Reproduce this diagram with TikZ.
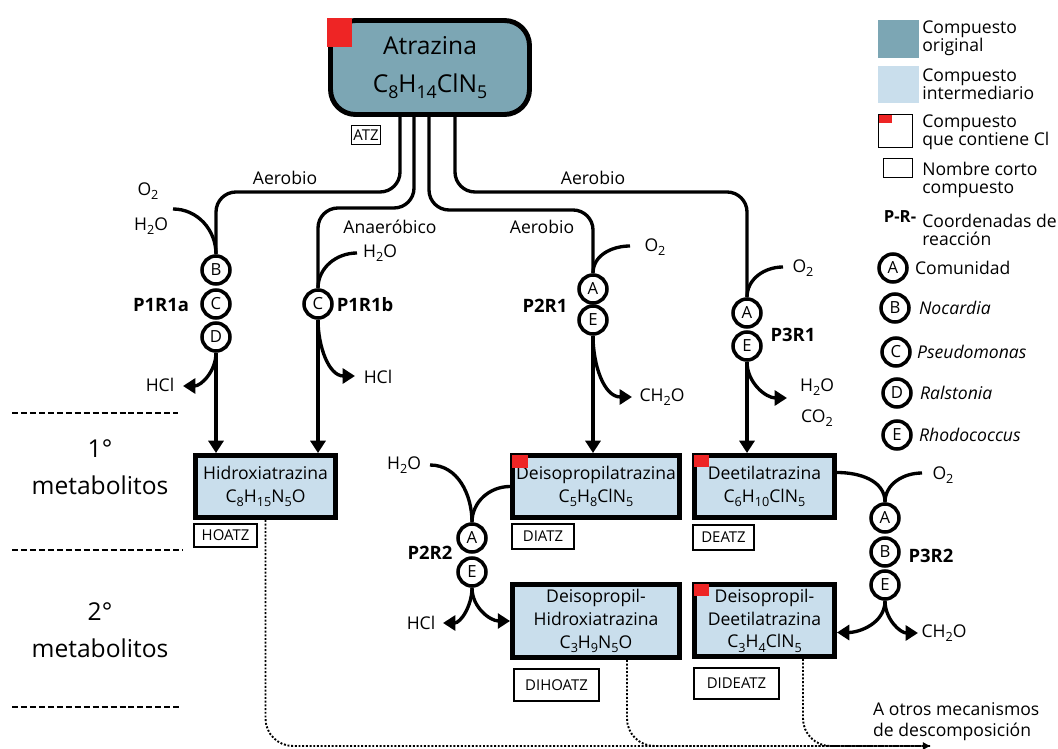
\documentclass[tikz,border=0pt]{standalone}
\usepackage{fontspec}
\usepackage{graphicx}
\setmainfont{Open Sans}
\usetikzlibrary{arrows.meta}
\definecolor{origfill}{RGB}{124,166,180}
\definecolor{interfill}{RGB}{201,222,236}
\definecolor{clred}{RGB}{238,37,37}
\newcommand{\sbs}[1]{\raisebox{-0.45ex}{\scalebox{0.72}{#1}}}

\begin{document}
\begin{tikzpicture}[x=0.02cm,y=0.02cm,
    every node/.style={font=\fontsize{10}{10}\selectfont},
    flow/.style={line width=1.9pt},
    endtip/.style={-{Triangle[width=8.5pt,length=7pt]}},
    org/.style={circle,draw,line width=2pt,fill=white,minimum size=0.56cm,inner sep=0pt,font=\fontsize{9.5}{10}\selectfont},
    orig/.style={draw,line width=2.8pt,fill=origfill,rounded corners=0.5cm,minimum width=3.98cm,minimum height=1.88cm,align=center,font=\fontsize{14}{22}\selectfont},
    inter/.style={draw,line width=2.8pt,fill=interfill,inner sep=0pt,align=center,font=\fontsize{10}{13}\selectfont},
    short/.style={draw,line width=1.1pt,fill=white,inner sep=0pt,font=\fontsize{8.5}{10}\selectfont},
    pr/.style={font=\fontsize{10.5}{12}\selectfont\bfseries},
    lvl/.style={align=center,font=\fontsize{14}{21}\selectfont},
    legtext/.style={anchor=west,align=left,inner sep=0pt,font=\fontsize{10}{10}\selectfont},
    lvlsep/.style={line width=1.1pt,dash pattern=on 3.4pt off 1.7pt},
    dotline/.style={densely dotted,line width=1.1pt,rounded corners=0.55cm}]
                    \useasboundingbox (0,0) rectangle (1058,-749);
                    \node[orig] (atz) at (430,-67.5) {Atrazina\\C\sbs{8}H\sbs{14}ClN\sbs{5}};
                    \fill[clred] ([shift={(-1,0)}]atz.north west) rectangle ++(25,-29);
                    \node[short,minimum width=0.58cm,minimum height=0.38cm] (atzs) at (366,-135) {ATZ};
                    \node[org] (b1a) at (216,-270) {B};
                    \node[org] (c1a) at (216,-304) {C};
                    \node[org] (d1a) at (216,-337) {D};
                    \node[org] (c1b) at (318,-304) {C};
                    \node[org] (a21) at (593,-289) {A};
                    \node[org] (e21) at (593,-320) {E};
                    \node[org] (a31) at (747,-313) {A};
                    \node[org] (e31) at (747,-346) {E};
                    \node[org] (a22) at (472,-538) {A};
                    \node[org] (e22) at (472,-572) {E};
                    \node[org] (a32) at (885,-518) {A};
                    \node[org] (b32) at (885,-552) {B};
                    \node[org] (e32) at (885,-585) {E};
                    \node[inter,minimum width=2.8cm,minimum height=1.24cm] (hoatz) at (265.5,-486.5) {Hidroxiatrazina\\C\sbs{8}H\sbs{15}N\sbs{5}O};
                    \node[inter,minimum width=3.34cm,minimum height=1.24cm] (diatz) at (596,-486.5) {Deisopropilatrazina\\C\sbs{5}H\sbs{8}ClN\sbs{5}};
                    \node[inter,minimum width=2.8cm,minimum height=1.24cm] (deatz) at (764.5,-486.5) {Deetilatrazina\\C\sbs{6}H\sbs{10}ClN\sbs{5}};
                    \node[inter,minimum width=3.34cm,minimum height=1.46cm] (dihoatz) at (596,-621) {Deisopropil-\\Hidroxiatrazina\\C\sbs{3}H\sbs{9}N\sbs{5}O};
                    \node[inter,minimum width=2.8cm,minimum height=1.44cm] (dideatz) at (764.5,-620.5) {Deisopropil-\\Deetilatrazina\\C\sbs{3}H\sbs{4}ClN\sbs{5}};
                    \fill[clred] ([shift={(2,-2)}]diatz.north west) rectangle ++(16,-13);
                    \fill[clred] ([shift={(2,-2)}]deatz.north west) rectangle ++(15,-12);
                    \fill[clred] ([shift={(2,-2)}]dideatz.north west) rectangle ++(15,-12);
                    \node[short,minimum width=1.26cm,minimum height=0.46cm] (hoatzs) at (225.5,-535.5) {HOATZ};
                    \node[short,minimum width=1.24cm,minimum height=0.5cm] (diatzs) at (543,-536.5) {DIATZ};
                    \node[short,minimum width=1.22cm,minimum height=0.5cm] (deatzs) at (723.5,-537.5) {DEATZ};
                    \node[short,minimum width=1.7cm,minimum height=0.64cm] (dihoatzs) at (556.5,-685) {DIHOATZ};
                    \node[short,minimum width=1.7cm,minimum height=0.62cm] (dideatzs) at (736.5,-683.5) {DIDEATZ};
                    \node (aer1) at (285,-178) {Aerobio};
                    \node (anaer) at (390,-227) {Anaeróbico};
                    \node (aer2) at (542,-227) {Aerobio};
                    \node (aer3) at (593,-178) {Aerobio};
                    \node[pr] (p1a) at (161,-305) {P1R1a};
                    \node[pr] (p1b) at (365,-305) {P1R1b};
                    \node[pr] (p21) at (545,-306) {P2R1};
                    \node[pr] (p31) at (793,-335) {P3R1};
                    \node[pr] (p22) at (430,-553) {P2R2};
                    \node[pr] (p32) at (931,-556) {P3R2};
                    \node (o2a) at (148,-191) {O\sbs{2}};
                    \node (h2oa) at (151,-226) {H\sbs{2}O};
                    \node (h2ob) at (380,-253) {H\sbs{2}O};
                    \node (o2c) at (655,-247) {O\sbs{2}};
                    \node (o2d) at (803,-268) {O\sbs{2}};
                    \node (hcla) at (160,-385) {HCl};
                    \node (hclb) at (378,-377) {HCl};
                    \node (ch2oc) at (662,-397) {CH\sbs{2}O};
                    \node (h2od) at (817,-387) {H\sbs{2}O};
                    \node (co2d) at (817,-418) {CO\sbs{2}};
                    \node (h2oe) at (404,-465) {H\sbs{2}O};
                    \node (hcle) at (421,-623) {HCl};
                    \node (o2f) at (943,-475) {O\sbs{2}};
                    \node (ch2of) at (944,-633) {CH\sbs{2}O};
                    \coordinate (in1a) at (173,-209);
                    \coordinate (in1b) at (357,-253);
                    \coordinate (in21) at (630,-246);
                    \coordinate (in31) at (783,-267);
                    \coordinate (in22) at (430,-465);
                    \coordinate (in32) at (922,-473);
                    \coordinate (out1a) at (183,-386);
                    \coordinate (out1b) at (355,-376);
                    \coordinate (out21) at (632,-397);
                    \coordinate (out31) at (787,-398);
                    \coordinate (out22) at (443,-623);
                    \coordinate (out32) at (918,-633);
                    \coordinate (dend) at (930,-746);
                    \draw[flow,rounded corners=0.4cm] ([xshift=-0.6cm]atz.south) |- (b1a |- 0,-192) -- (b1a.north);
                    \draw[flow,rounded corners=0.4cm] ([xshift=-0.32cm]atz.south) |- (c1b |- 0,-208) -- (c1b.north);
                    \draw[flow,rounded corners=0.4cm] ([xshift=-0.02cm]atz.south) |- (a21 |- 0,-210) -- (a21.north);
                    \draw[flow,rounded corners=0.4cm] ([xshift=0.5cm]atz.south) |- (a31 |- 0,-192) -- (a31.north);
                    \draw[flow] (in1a) to[out=0,in=90] (b1a.north);
                    \draw[flow] (in1b) to[out=180,in=90] (c1b.north);
                    \draw[flow] (in21) to[out=180,in=90] (a21.north);
                    \draw[flow] (in31) to[out=180,in=90] (a31.north);
                    \draw[flow,endtip] (d1a.south) -- (d1a.south |- hoatz.north);
                    \draw[flow,endtip] (d1a.south) to[out=-90,in=0] (out1a);
                    \draw[flow,endtip] (c1b.south) -- (c1b.south |- hoatz.north);
                    \draw[flow,endtip] (c1b.south) to[out=-90,in=180] (out1b);
                    \draw[flow,endtip] (e21.south) -- (e21.south |- diatz.north);
                    \draw[flow,endtip] (e21.south) to[out=-90,in=180] (out21);
                    \draw[flow,endtip] (e31.south) -- (e31.south |- deatz.north);
                    \draw[flow,endtip] (e31.south) to[out=-90,in=180] (out31);
                    \draw[flow] (diatz.west) to[out=180,in=90] (a22.north);
                    \draw[flow] (in22) to[out=0,in=90] (a22.north);
                    \draw[flow,endtip] (e22.south) to[out=-90,in=0] (out22);
                    \draw[flow,endtip] (e22.south) to[out=-90,in=180] (dihoatz.west);
                    \draw[flow] ([yshift=0.28cm]deatz.east) to[out=0,in=90] (a32.north);
                    \draw[flow] (in32) to[out=180,in=90] (a32.north);
                    \draw[flow,endtip] (e32.south) to[out=-90,in=0] ([yshift=-0.24cm]dideatz.east);
                    \draw[flow,endtip] (e32.south) to[out=-90,in=180] (out32);
                    \draw[dotline,-{Triangle[width=4pt,length=4pt]}] (hoatz.south) |- (dend);
                    \draw[dotline] ([xshift=0.62cm]dihoatz.south) |- (dend);
                    \draw[dotline] ([xshift=0.77cm]dideatz.south) |- (dend);
                    \node[anchor=west,align=left,font=\fontsize{10}{12}\selectfont] (otros) at (867,-722) {A otros mecanismos\\de descomposición};
                    \draw[lvlsep] (12,-413) -- (178,-413);
                    \draw[lvlsep] (12,-550) -- (183,-550);
                    \draw[lvlsep] (12,-707) -- (182,-707);
                    \node[lvl] (lvl1) at (100,-467) {1°\\metabolitos};
                    \node[lvl] (lvl2) at (100,-630) {2°\\metabolitos};
                    \node[fill=origfill,minimum width=0.82cm,minimum height=0.76cm,inner sep=0pt] (lgorig) at (898.5,-39) {};
                    \node[fill=interfill,minimum width=0.82cm,minimum height=0.74cm,inner sep=0pt] (lginter) at (898.5,-84.5) {};
                    \node[draw,line width=0.8pt,minimum width=0.68cm,minimum height=0.66cm,inner sep=0pt] (lgcl) at (895.5,-131) {};
                    \fill[clred] ([shift={(1,-1)}]lgcl.north west) rectangle ++(13,-8);
                    \node[short,minimum width=0.58cm,minimum height=0.38cm] (lgshort) at (898,-168) {};
                    \node[font=\fontsize{9.5}{10}\selectfont\bfseries] (lgpr) at (900,-217) {P-R-};
                    \node[legtext] (lgt1) at (922,-38) {Compuesto\\original};
                    \node[legtext] (lgt2) at (922,-84) {Compuesto\\intermediario};
                    \node[legtext] (lgt3) at (922,-132) {Compuesto\\que contiene Cl};
                    \node[legtext] (lgt4) at (922,-180) {Nombre corto\\compuesto};
                    \node[legtext] (lgt5) at (922,-230) {Coordenadas de\\reacción};
                    \node[org] (lga) at (893,-268) {A};
                    \node[org] (lgb) at (895,-308) {B};
                    \node[org] (lgc) at (896,-352) {C};
                    \node[org] (lgd) at (897,-393) {D};
                    \node[org] (lge) at (897,-435) {E};
                    \node[legtext] (lgta) at ([xshift=0.12cm]lga.east) {Comunidad};
                    \node[legtext] (lgtb) at ([xshift=0.16cm]lgb.east) {\itshape Nocardia};
                    \node[legtext] (lgtc) at ([xshift=0.1cm]lgc.east) {\itshape Pseudomonas};
                    \node[legtext] (lgtd) at ([xshift=0.14cm]lgd.east) {\itshape Ralstonia};
                    \node[legtext] (lgte) at ([xshift=0.12cm]lge.east) {\itshape Rhodococcus};
               \end{tikzpicture}
\end{document}
